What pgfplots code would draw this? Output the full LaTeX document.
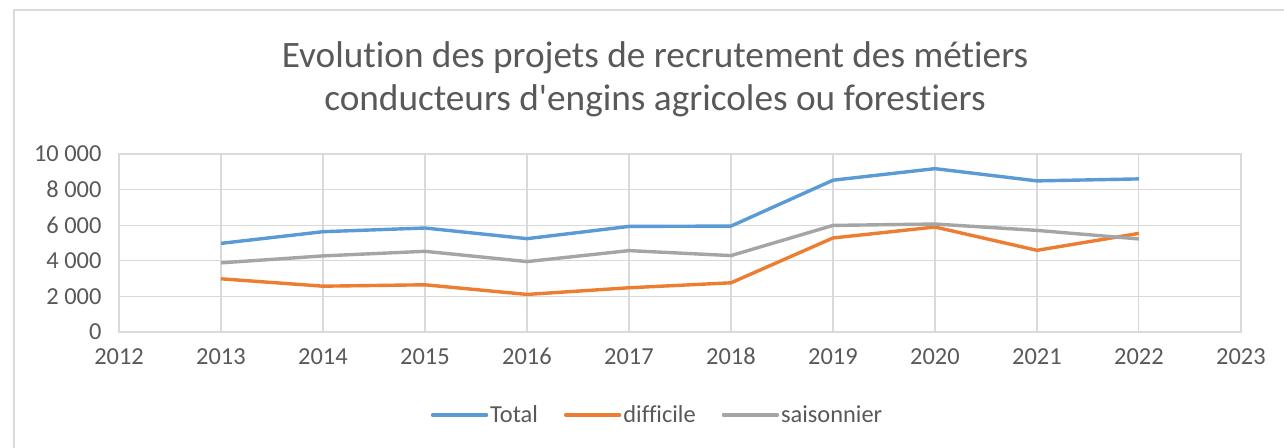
\documentclass[border=0pt]{standalone}
\usepackage{pgfplots}
\pgfplotsset{compat=1.18}
\usepackage{fontspec}
\setmainfont{Carlito}[Ligatures={NoCommon,TeXOff}]
\definecolor{cblue}{HTML}{5B9BD5}
\definecolor{corange}{HTML}{ED7D31}
\definecolor{cgray}{HTML}{A5A5A5}
\definecolor{cgrid}{HTML}{D9D9D9}
\definecolor{ctext}{HTML}{595959}
\begin{document}
\begin{tikzpicture}
\useasboundingbox (0bp,0bp) rectangle (1284bp,448bp);
\fill[white] (0bp,0bp) rectangle (1284bp,448bp);
\draw[cgrid,line width=1.5bp] (14bp,-20bp) -- (14bp,438bp) -- (1310bp,438bp);
\node[ctext,align=center,font=\fontsize{37.4}{43}\selectfont] at (655bp,369bp) {Evolution des projets de recrutement des métiers\\conducteurs d'engins agricoles ou forestiers};
\begin{axis}[
  at={(119bp,116bp)}, anchor=south west,
  scale only axis, width=1122bp, height=178bp,
  xmin=2012, xmax=2023, ymin=0, ymax=10000,
  xtick={2012,...,2023}, ytick={0,2000,...,10000},
  grid=major, major grid style={cgrid,line width=1.2bp},
  axis line style={cgrid,line width=1.2bp},
  tick style={draw=none},
  ticklabel style={ctext,font=\fontsize{24.5}{28}\selectfont},
  /pgf/number format/assume math mode=true,
  xticklabel style={/pgf/number format/1000 sep={}, yshift=-13bp, text height=15.6bp, text depth=0bp},
  yticklabel style={/pgf/number format/1000 sep={\ }, xshift=-14bp},
  scaled y ticks=false,
  legend columns=3,
  legend style={draw=none, fill=none, at={(0.480,-0.466)}, anchor=center,
    font=\fontsize{24.5}{28}\selectfont, text=ctext,
    /tikz/every even column/.append style={column sep=24bp}},
  legend image code/.code={\draw[#1,line cap=round] (0bp,0bp) -- (54bp,0bp);},
  every axis plot/.append style={line width=3.4bp, line join=round},
]
\addplot[cblue] coordinates {(2013,4980) (2014,5635) (2015,5842) (2016,5243) (2017,5932) (2018,5950) (2019,8528) (2020,9177) (2021,8489) (2022,8601)};
\addlegendentry{Total}
\addplot[corange] coordinates {(2013,2988) (2014,2574) (2015,2652) (2016,2110) (2017,2485) (2018,2764) (2019,5283) (2020,5898) (2021,4589) (2022,5540)};
\addlegendentry{difficile}
\addplot[cgray] coordinates {(2013,3884) (2014,4275) (2015,4533) (2016,3956) (2017,4572) (2018,4292) (2019,5988) (2020,6066) (2021,5708) (2022,5227)};
\addlegendentry{saisonnier}
\end{axis}
\end{tikzpicture}
\end{document}
